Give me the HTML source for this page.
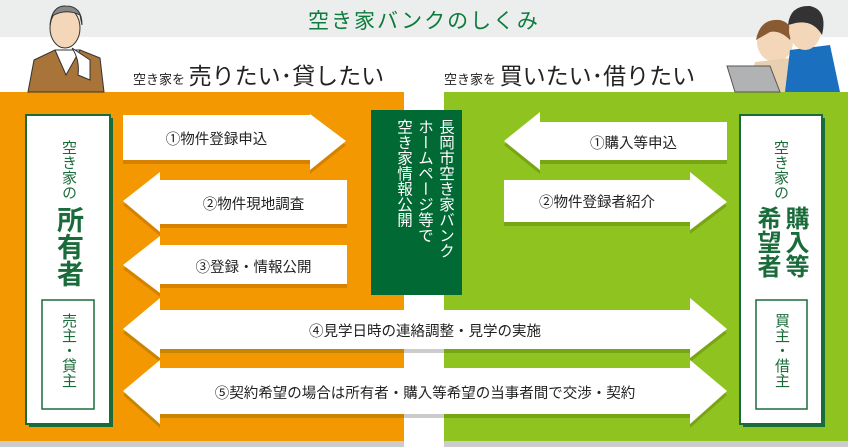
<!DOCTYPE html>
<html><head><meta charset="utf-8"><style>
body{margin:0;width:848px;height:447px;overflow:hidden;background:#fff;font-family:"Liberation Sans","Noto Sans CJK JP",sans-serif;position:relative}
.a{position:absolute}
.v{writing-mode:vertical-rl;position:absolute}
.t{font-size:14.5px;color:#222;text-align:center;position:absolute}
</style></head><body>
<div class="a" style="left:0;top:0;width:848px;height:37px;background:#eceeed"></div>
<div class="a" style="left:0;top:5px;width:848px;text-align:center;color:#0e7b3e;font-size:21px;letter-spacing:2px">空き家バンクのしくみ</div>
<div class="a" style="left:133px;top:57px;font-size:13px;color:#222">空き家を <span style="font-size:23px">売りたい･貸したい</span></div>
<div class="a" style="left:444px;top:57px;font-size:13px;color:#222">空き家を <span style="font-size:23px">買いたい･借りたい</span></div>
<div class="a" style="left:0;top:92px;width:404px;height:349px;background:#f39800"></div>
<div class="a" style="left:444px;top:92px;width:404px;height:349px;background:#8fc31f"></div>
<div class="a" style="left:0;top:441px;width:404px;height:6px;background:#ccc"></div>
<div class="a" style="left:444px;top:441px;width:404px;height:6px;background:#ccc"></div>
<svg class="a" style="left:0;top:0" width="848" height="447">
<path d="M28 92 L34 60 L55 50 L80 50 L100 58 L104 92 Z" fill="#a8743a" stroke="#333"/>
<path d="M55 50 L66 75 L80 50 Z" fill="#fff" stroke="#333"/>
<ellipse cx="65" cy="28" rx="15" ry="20" fill="#f3d7b8" stroke="#333"/>
<path d="M50 25 Q52 5 66 6 Q82 6 82 25 L80 15 Q66 8 52 16 Z" fill="#888" stroke="#333"/>
<path d="M72 48 Q80 60 78 75 L90 80 L90 60 Z" fill="#fff" stroke="#333"/>
<ellipse cx="775" cy="42" rx="18" ry="20" fill="#f3d7b8"/>
<path d="M756 40 Q760 18 780 20 Q795 24 790 40 Q780 30 770 32 Z" fill="#8a5a33"/>
<path d="M748 92 L755 62 L790 58 L800 92 Z" fill="#e8cfae"/>
<path d="M785 92 L790 50 L830 45 L840 92 Z" fill="#1a6fbf"/>
<ellipse cx="805" cy="30" rx="16" ry="20" fill="#f3d7b8"/>
<path d="M788 25 Q790 5 810 6 Q828 10 822 35 Q812 18 792 24 Z" fill="#333"/>
<path d="M727 66 L770 66 L780 92 L735 92 Z" fill="#b0b2b3" stroke="#555"/>
<rect x="371" y="110" width="91" height="185" fill="#006934"/>
<g fill="#d68100">
<polygon points="123,119 310,119 310,118 346,145 310,174 310,164 123,164"/>
<polygon points="123,205 160,176 160,184 347,184 347,228 160,228 160,236"/>
<polygon points="123,269 160,240 160,249 347,249 347,288 160,288 160,297"/>
</g>
<g fill="#78a514">
<polygon points="504,145 540,116 540,126 727,126 727,164 540,164 540,174"/>
<polygon points="504,184 690,184 690,176 727,206 690,234 690,226 504,226"/>
</g>
<g fill="#c98500">
<polygon points="123,333 160,302 160,314 404,314 404,353 160,353 160,362"/>
<polygon points="123,395 160,364 160,372 404,372 404,418 160,418 160,428"/>
</g>
<rect x="404" y="314" width="40" height="39" fill="#ccc"/>
<rect x="404" y="372" width="40" height="46" fill="#ccc"/>
<g fill="#78a514">
<polygon points="444,314 690,314 690,302 727,333 690,362 690,353 444,353"/>
<polygon points="444,372 690,372 690,364 727,395 690,428 690,418 444,418"/>
</g>
<g fill="#fff">
<polygon points="123,115 310,115 310,114 346,141 310,170 310,160 123,160"/>
<polygon points="123,201 160,172 160,180 347,180 347,224 160,224 160,232"/>
<polygon points="123,265 160,236 160,245 347,245 347,284 160,284 160,293"/>
<polygon points="504,141 540,112 540,122 727,122 727,160 540,160 540,170"/>
<polygon points="504,180 690,180 690,172 727,202 690,230 690,222 504,222"/>
<polygon points="123,329 160,298 160,310 690,310 690,298 727,329 690,358 690,349 160,349 160,358"/>
<polygon points="123,391 160,360 160,368 690,368 690,360 727,391 690,424 690,414 160,414 160,424"/>
</g>
<rect x="29" y="118" width="84" height="309" fill="#1a6b3a"/>
<rect x="26" y="115" width="84" height="309" fill="#fff" stroke="#1a6b3a" stroke-width="2"/>
<rect x="42" y="300" width="52" height="109" fill="#fff" stroke="#1a6b3a" stroke-width="1.5"/>
<rect x="743" y="118" width="82" height="309" fill="#1a6b3a"/>
<rect x="740" y="115" width="82" height="309" fill="#fff" stroke="#1a6b3a" stroke-width="2"/>
<rect x="756" y="300" width="51" height="109" fill="#fff" stroke="#1a6b3a" stroke-width="1.5"/>
</svg>
<div class="t" style="left:123px;top:128px;width:187px">①物件登録申込</div>
<div class="t" style="left:160px;top:193px;width:187px">②物件現地調査</div>
<div class="t" style="left:160px;top:256px;width:187px">③登録・情報公開</div>
<div class="t" style="left:540px;top:132px;width:187px">①購入等申込</div>
<div class="t" style="left:504px;top:191px;width:186px">②物件登録者紹介</div>
<div class="t" style="left:123px;top:320px;width:604px">④見学日時の連絡調整・見学の実施</div>
<div class="t" style="left:123px;top:382px;width:604px">⑤契約希望の場合は所有者・購入等希望の当事者間で交渉・契約</div>
<div class="v" style="left:386px;top:119px;width:70px;height:172px;color:#fff;font-size:15.5px;line-height:21px">長岡市空き家バンク<br>ホームページ等で<br>空き家情報公開</div>
<div class="v" style="left:58px;top:140px;color:#1a6b3a;font-size:15px;line-height:20px">空き家の</div>
<div class="v" style="left:53px;top:206px;color:#1a6b3a;font-size:27px;font-weight:bold;line-height:30px">所有者</div>
<div class="v" style="left:58px;top:313px;color:#1a6b3a;font-size:15px;line-height:20px">売主・貸主</div>
<div class="v" style="left:770px;top:140px;color:#1a6b3a;font-size:15px;line-height:20px">空き家の</div>
<div class="v" style="left:752px;top:206px;color:#1a6b3a;font-size:24px;font-weight:bold;line-height:28px;height:84px">購入等<br>希望者</div>
<div class="v" style="left:771px;top:313px;color:#1a6b3a;font-size:15px;line-height:20px">買主・借主</div>
</body></html>
